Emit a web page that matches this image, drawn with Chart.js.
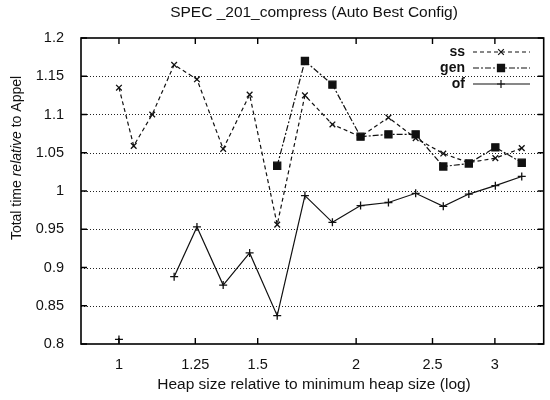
<!DOCTYPE html>
<html>
<head>
<meta charset="utf-8">
<script src="https://cdn.jsdelivr.net/npm/chart.js@4/dist/chart.umd.min.js"></script>
<style>
  body { margin: 0; background: #fff; }
  canvas { display: block; }
</style>
</head>
<body>
<canvas id="myChart" width="550" height="400"></canvas>
<script>
// heap size relative to minimum (x, log scale)
const heapSizes = [1.0, 1.044, 1.102, 1.175, 1.256, 1.356, 1.465, 1.588, 1.722, 1.866, 2.026, 2.198, 2.38, 2.58, 2.78, 3.004, 3.245];
// total time relative to Appel
const ssTimes  = [1.135, 1.059, 1.100, 1.165, 1.146, 1.055, 1.126, 0.956, 1.125, 1.087, 1.071, 1.096, 1.069, 1.049, 1.037, 1.043, 1.056];
const genTimes = [null, null, null, null, null, null, null, 1.033, 1.170, 1.139, 1.071, 1.074, 1.074, 1.032, 1.036, 1.057, 1.037];
const ofTimes  = [0.806, null, null, 0.888, 0.953, 0.877, 0.919, 0.837, 0.994, 0.959, 0.981, 0.985, 0.997, 0.980, 0.996, 1.007, 1.019];

const xTicks = [1, 1.25, 1.5, 2, 2.5, 3];
const yTicks = [0.8, 0.85, 0.9, 0.95, 1, 1.05, 1.1, 1.15, 1.2];

const FONT = '"Liberation Sans", Arial, Helvetica, sans-serif';

function points(values) {
  return heapSizes.map((x, i) => ({ x: x, y: values[i] }));
}

const datasets = [
  { label: 'ss', data: points(ssTimes), borderDash: [4, 3], pointStyle: 'crossRot', pointRadius: 4 },
  { label: 'gen', data: points(genTimes), borderDash: [6, 2, 2, 2], pointStyle: 'rect', pointRadius: 5 },
  { label: 'of', data: points(ofTimes), borderDash: [], pointStyle: 'cross', pointRadius: 4 }
].map(d => Object.assign(d, {
  borderColor: '#111',
  backgroundColor: '#111',
  borderWidth: 1.2,
  pointBorderWidth: 1.3,
  pointBorderColor: '#111',
  pointBackgroundColor: '#111',
  tension: 0,
  spanGaps: false
}));

// gnuplot-ish frame, dotted grid, inward ticks, title, labels, legend
const decorations = {
  id: 'decorations',
  beforeDatasetsDraw(chart) {
    const ctx = chart.ctx;
    const a = chart.chartArea;
    const ys = chart.scales.y;
    ctx.save();
    ctx.strokeStyle = '#222';
    ctx.lineWidth = 1;
    ctx.setLineDash([1, 2]);
    yTicks.slice(1, -1).forEach(v => {
      const y = Math.round(ys.getPixelForValue(v)) + 0.5;
      ctx.beginPath(); ctx.moveTo(a.left, y); ctx.lineTo(a.right, y); ctx.stroke();
    });
    ctx.restore();
  },
  afterDatasetsDraw(chart) {
    const ctx = chart.ctx;
    const a = chart.chartArea;
    const xs = chart.scales.x, ys = chart.scales.y;
    ctx.save();
    // frame
    ctx.strokeStyle = '#000';
    ctx.lineWidth = 1.6;
    ctx.strokeRect(a.left, a.top, a.right - a.left, a.bottom - a.top);
    // tick marks
    ctx.lineWidth = 1.4;
    const tl = 6;
    xTicks.forEach(v => {
      const x = xs.getPixelForValue(v);
      ctx.beginPath();
      ctx.moveTo(x, a.bottom); ctx.lineTo(x, a.bottom - tl);
      ctx.moveTo(x, a.top); ctx.lineTo(x, a.top + tl);
      ctx.stroke();
    });
    yTicks.forEach(v => {
      const y = ys.getPixelForValue(v);
      ctx.beginPath();
      ctx.moveTo(a.left, y); ctx.lineTo(a.left + tl, y);
      ctx.moveTo(a.right, y); ctx.lineTo(a.right - tl, y);
      ctx.stroke();
    });

    ctx.fillStyle = '#111';
    ctx.textAlign = 'center';
    ctx.textBaseline = 'middle';
    // title
    ctx.font = '15.5px ' + FONT;
    ctx.fillText('SPEC _201_compress (Auto Best Config)', 314, 13);
    // x title
    ctx.fillText('Heap size relative to minimum heap size (log)', 314, 385);
    // y title with italic word
    ctx.save();
    ctx.translate(17, 158);
    ctx.rotate(-Math.PI / 2);
    const parts = [['Total time ', ''], ['relative', 'italic '], [' to Appel', '']];
    let total = 0;
    parts.forEach(p => { ctx.font = p[1] + '14px ' + FONT; total += ctx.measureText(p[0]).width; });
    let px = -total / 2;
    ctx.textAlign = 'left';
    parts.forEach(p => {
      ctx.font = p[1] + '14px ' + FONT;
      ctx.fillText(p[0], px, 0);
      px += ctx.measureText(p[0]).width;
    });
    ctx.restore();

    // legend
    ctx.font = 'bold 14px ' + FONT;
    ctx.textAlign = 'right';
    chart.data.datasets.forEach((d, i) => {
      const y = 52 + i * 16;
      ctx.fillStyle = '#111';
      ctx.fillText(d.label, 465, y);
      ctx.strokeStyle = '#111';
      ctx.lineWidth = 1.2;
      ctx.setLineDash(d.borderDash);
      ctx.beginPath(); ctx.moveTo(473, y); ctx.lineTo(530, y); ctx.stroke();
      ctx.setLineDash([]);
      Chart.helpers.drawPoint(ctx, {
        pointStyle: d.pointStyle, radius: d.pointRadius, rotation: 0, borderWidth: 1.3
      }, 501, y);
      if (d.pointStyle === 'rect') ctx.fill();
    });
    ctx.restore();
  }
};

new Chart(document.getElementById('myChart'), {
  type: 'line',
  data: { datasets: datasets },
  plugins: [decorations],
  options: {
    responsive: false,
    animation: false,
    layout: { padding: { top: 38, right: 3, left: 0, bottom: 0 } },
    plugins: { legend: { display: false }, title: { display: false }, tooltip: { enabled: false } },
    scales: {
      x: {
        type: 'logarithmic',
        min: 0.895,
        max: 3.46,
        afterBuildTicks: s => { s.ticks = xTicks.map(v => ({ value: v })); },
        afterFit: s => { s.height = 56; },
        grid: { display: false },
        border: { display: false },
        ticks: {
          color: '#111',
          padding: 4,
          maxRotation: 0,
          autoSkip: false,
          font: { family: FONT, size: 14.5 },
          callback: v => String(v)
        }
      },
      y: {
        min: 0.8,
        max: 1.2,
        afterBuildTicks: s => { s.ticks = yTicks.map(v => ({ value: v })); },
        afterFit: s => { s.width = 81; },
        grid: { display: false },
        border: { display: false },
        ticks: {
          color: '#111',
          padding: 9,
          autoSkip: false,
          font: { family: FONT, size: 14.5 },
          callback: v => String(parseFloat(v.toFixed(2)))
        }
      }
    }
  }
});
</script>
</body>
</html>
